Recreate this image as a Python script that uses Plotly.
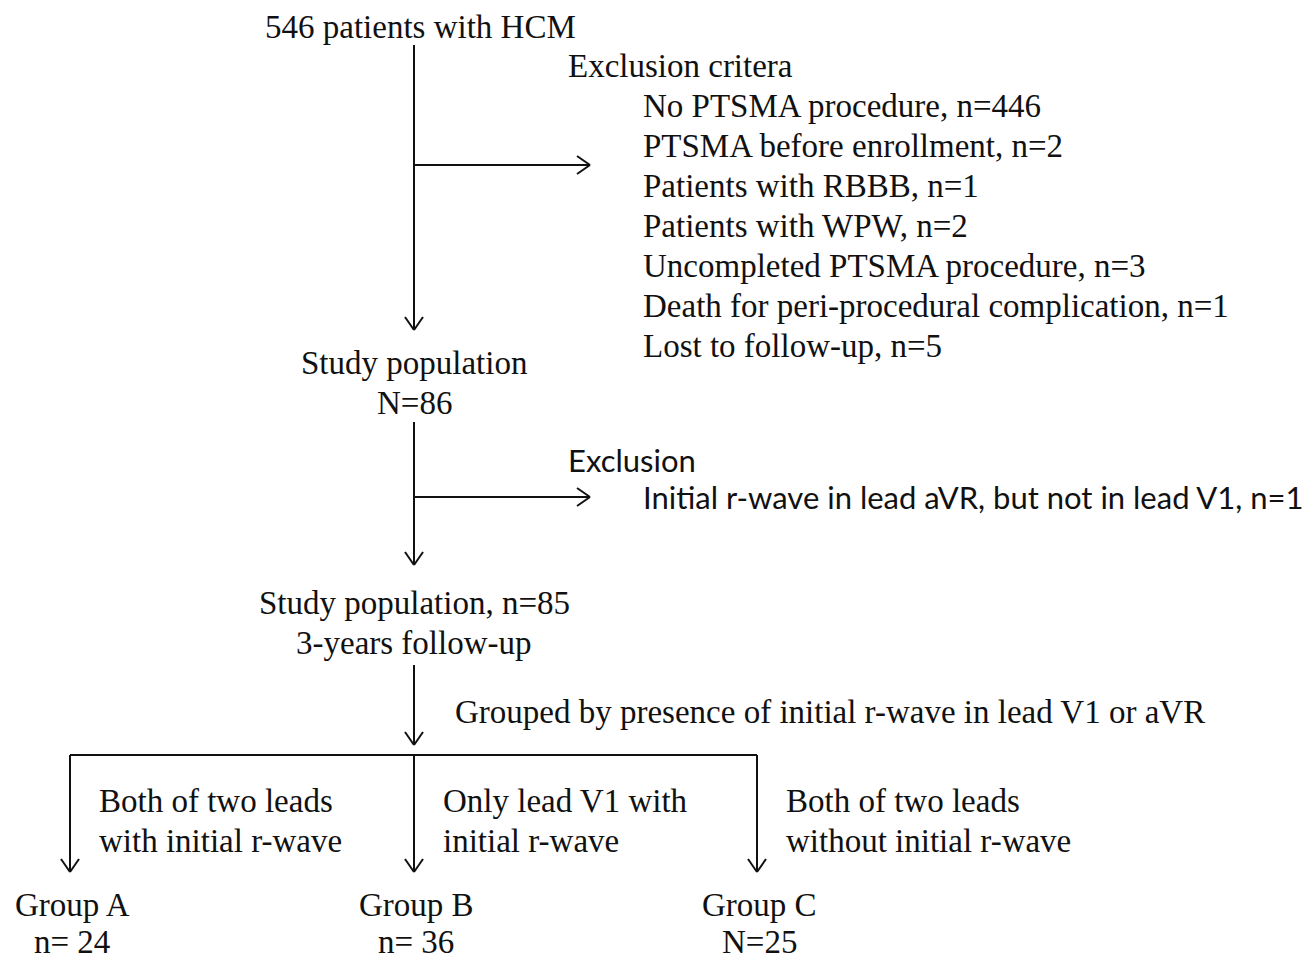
import plotly.graph_objects as go

W, H = 1310, 958
OFF = 8  # page body margin
SERIF = "Liberation Serif, Times New Roman, serif"
SANS = "Lato, Calibri, sans-serif"
FS = 33
INK = "#111111"

# ---- text content ----
top_label = "546 patients with HCM"
excl1_title = "Exclusion critera"
excl1_items = [
    "No PTSMA procedure, n=446",
    "PTSMA before enrollment, n=2",
    "Patients with RBBB, n=1",
    "Patients with WPW, n=2",
    "Uncompleted PTSMA procedure, n=3",
    "Death for peri-procedural complication, n=1",
    "Lost to follow-up, n=5",
]
study1 = ["Study population", "N=86"]
excl2_title = "Exclusion"
excl2_items = ["Initial r-wave in lead aVR, but not in lead V1, n=1"]
study2 = ["Study population, n=85", "3-years follow-up"]
grouping = "Grouped by presence of initial r-wave in lead V1 or aVR"
branch_desc = [
    ["Both of two leads", "with initial r-wave"],
    ["Only lead V1 with", "initial r-wave"],
    ["Both of two leads", "without initial r-wave"],
]
group_names = ["Group A", "Group B", "Group C"]
group_counts = ["n= 24", "n= 36", "N=25"]

fig = go.Figure()
shapes = []
annotations = []

LW = 2


def line(x0, y0, x1, y1):
    shapes.append(dict(type="line", xref="x", yref="y", x0=x0, y0=y0, x1=x1, y1=y1,
                       line=dict(color=INK, width=LW)))


def arrow(x0, y0, x1, y1, L=13, Wd=9):
    line(x0, y0, x1, y1)
    dx, dy = x1 - x0, y1 - y0
    n = (dx ** 2 + dy ** 2) ** 0.5
    ux, uy = dx / n, dy / n
    px, py = -uy, ux
    bx, by = x1 - ux * L, y1 - uy * L
    line(bx + px * Wd, by + py * Wd, x1, y1)
    line(bx - px * Wd, by - py * Wd, x1, y1)


def text(x, y, s, anchor="left", font=SERIF, size=FS):
    annotations.append(dict(x=x, y=y, xref="x", yref="y", text=s, showarrow=False,
                            xanchor=anchor, yanchor="middle",
                            font=dict(family=font, size=size, color=INK)))


CX = 414
# top
text(420, 27, top_label, "center")
arrow(CX, 45, CX, 330)
arrow(CX, 165, 590, 165)
text(566, 66, excl1_title)
for i, s in enumerate(excl1_items):
    text(641, 106 + 40 * i, s)

# study population 1
text(CX, 363, study1[0], "center")
text(CX, 403, study1[1], "center")
arrow(CX, 422, CX, 565)
arrow(CX, 497, 590, 497)
text(566, 460, excl2_title, font=SANS, size=31)
text(641, 497, excl2_items[0], font=SANS, size=31)

# study population 2
text(CX, 603, study2[0], "center")
text(CX, 643, study2[1], "center")
arrow(CX, 665, CX, 745)
text(453, 712, grouping)

# branches
bx = [70, 414, 757]
line(bx[0], 755, bx[-1], 755)
for i, x in enumerate(bx):
    arrow(x, 755, x, 872)
    text(x + 27, 801, branch_desc[i][0])
    text(x + 27, 841, branch_desc[i][1])
    text(x + 2, 905, group_names[i], "center")
    text(x + 2, 942, group_counts[i], "center")

fig.update_layout(
    width=W, height=H,
    margin=dict(l=0, r=0, t=0, b=0),
    paper_bgcolor="white", plot_bgcolor="white",
    xaxis=dict(range=[OFF, W + OFF], visible=False, fixedrange=True),
    yaxis=dict(range=[H + OFF, OFF], visible=False, fixedrange=True),
    shapes=shapes, annotations=annotations, showlegend=False,
)
fig.write_html("out.html")
